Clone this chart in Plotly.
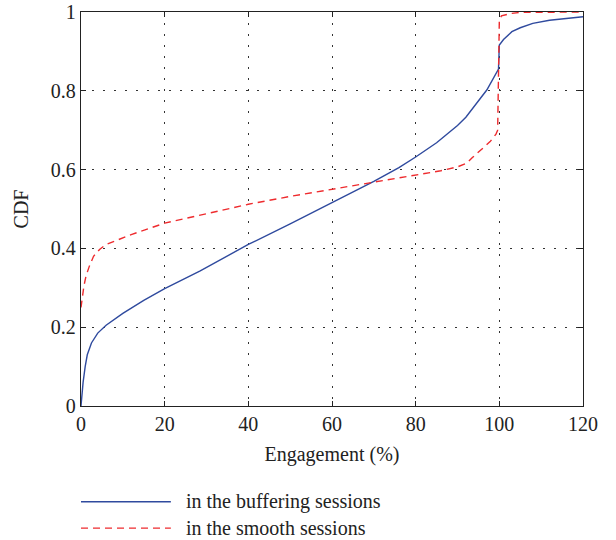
import plotly.graph_objects as go

# Buffering sessions CDF
buf_x = [0, 0.2, 0.5, 1.0, 1.5, 2.5, 4, 6, 8, 10, 15, 20, 28.5, 40, 50, 60, 70, 76, 80, 85, 90, 92, 95, 97, 99.8,
         100, 101, 103, 105, 108, 112, 116, 120]
buf_y = [0, 0.03, 0.06, 0.10, 0.13, 0.16, 0.185, 0.205, 0.22, 0.235, 0.268, 0.298, 0.343, 0.41, 0.462, 0.515, 0.57,
         0.605, 0.632, 0.668, 0.712, 0.733, 0.775, 0.802, 0.855,
         0.916, 0.93, 0.95, 0.96, 0.971, 0.979, 0.984, 0.988]

# Smooth sessions CDF
smo_x = [0, 0.3, 0.7, 1.2, 2, 3, 4.5, 6, 8, 12, 20, 28.5, 40, 50, 60, 70, 76, 80, 86, 90, 92.2, 93.5, 94.6, 96.5,
         97.8, 99.2, 99.6, 100, 100.5, 102.6, 105, 120]
smo_y = [0.25, 0.28, 0.305, 0.33, 0.355, 0.38, 0.398, 0.41, 0.418, 0.435, 0.464, 0.485, 0.512, 0.532, 0.55, 0.567,
         0.578, 0.585, 0.597, 0.607, 0.616, 0.63, 0.641, 0.66, 0.671, 0.69, 0.70, 0.98, 0.99, 0.996, 0.999, 1.0]

x_ticks = [0, 20, 40, 60, 80, 100, 120]
y_ticks = [0, 0.2, 0.4, 0.6, 0.8, 1]
y_tick_text = ["0", "0.2", "0.4", "0.6", "0.8", "1"]

names = ["in the buffering sessions", "in the smooth sessions"]
BLUE = "#2f4a9e"
RED = "#ee2b2e"
FONT = "Liberation Serif"
FS = 20

fig = go.Figure()
fig.add_trace(go.Scatter(x=buf_x, y=buf_y, mode="lines", name=names[0],
                         line=dict(color=BLUE, width=1.4), showlegend=False))
fig.add_trace(go.Scatter(x=smo_x, y=smo_y, mode="lines", name=names[1],
                         line=dict(color=RED, width=1.4, dash="7px,5px"), showlegend=False))

axis_common = dict(showline=True, linecolor="#222", linewidth=1.3, mirror="ticks",
                   ticks="inside", ticklen=5, tickcolor="#222", automargin=False,
                   showgrid=True, gridcolor="#333", gridwidth=1, griddash="2px,9px",
                   zeroline=False, tickfont=dict(family=FONT, size=FS, color="#222"))

fig.update_xaxes(range=[0, 120], tickvals=x_ticks, **axis_common,
                 title=dict(text="Engagement (%)", font=dict(family=FONT, size=FS, color="#222"), standoff=12))
fig.update_yaxes(range=[0, 1], tickvals=y_ticks, ticktext=y_tick_text, **axis_common,
                 title=dict(text="CDF", font=dict(family=FONT, size=FS, color="#222"), standoff=16))

# Legend drawn below the axes
leg_y = [-0.243, -0.31]
for i, (col, dash) in enumerate([(BLUE, "solid"), (RED, "7px,5px")]):
    fig.add_shape(type="line", xref="paper", yref="paper", x0=0.0, x1=0.179, y0=leg_y[i], y1=leg_y[i],
                  line=dict(color=col, width=1.4, dash=dash))
    fig.add_annotation(xref="paper", yref="paper", x=0.205, y=leg_y[i], text=names[i], showarrow=False,
                       xanchor="left", yanchor="middle", font=dict(family=FONT, size=FS, color="#222"))

fig.update_layout(width=616, height=540, margin=dict(l=81, r=33, t=12, b=134),
                  plot_bgcolor="white", paper_bgcolor="white", showlegend=False)

fig.write_html("out.html", config={"displayModeBar": False},
               post_script="document.body.style.margin='0';document.body.style.overflow='hidden';")
